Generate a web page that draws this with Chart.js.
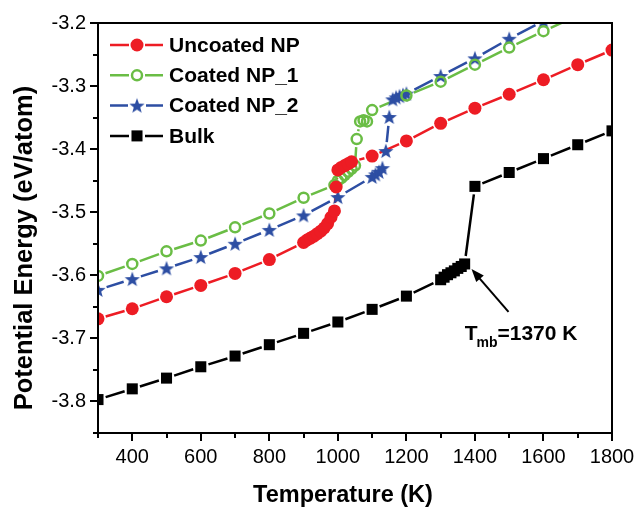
<!DOCTYPE html>
<html>
<head>
<meta charset="utf-8">
<script src="https://cdn.jsdelivr.net/npm/chart.js@4.4.1/dist/chart.umd.min.js"></script>
<style>
  body { margin: 0; background: #fff; }
</style>
</head>
<body>
<canvas id="peChart" width="638" height="512"></canvas>
<script>
// temperatures (K) and potential energy (eV/atom)
const tempsUncoated = [300, 400, 500, 600, 700, 800, 900, 910, 920, 930, 940, 950, 960, 970, 980, 990, 995, 1000, 1010, 1020, 1030, 1040, 1100, 1200, 1300, 1400, 1500, 1600, 1700, 1800];
const peUncoated = [-3.669, -3.653, -3.634, -3.616, -3.597, -3.575, -3.548, -3.544, -3.541, -3.538, -3.534, -3.530, -3.525, -3.518, -3.508, -3.498, -3.460, -3.433, -3.429, -3.426, -3.423, -3.420, -3.411, -3.387, -3.359, -3.335, -3.313, -3.290, -3.266, -3.243];

const tempsCoated1 = [300, 400, 500, 600, 700, 800, 900, 990, 1000, 1010, 1020, 1030, 1040, 1050, 1055, 1065, 1075, 1085, 1100, 1200, 1300, 1400, 1500, 1600, 1700];
const peCoated1 = [-3.601, -3.582, -3.562, -3.545, -3.524, -3.502, -3.477, -3.457, -3.450, -3.446, -3.441, -3.436, -3.431, -3.426, -3.384, -3.356, -3.354, -3.356, -3.338, -3.315, -3.293, -3.266, -3.239, -3.213, -3.188];

const tempsCoated2 = [300, 400, 500, 600, 700, 800, 900, 1000, 1100, 1110, 1120, 1130, 1140, 1150, 1160, 1170, 1180, 1190, 1200, 1300, 1400, 1500, 1600];
const peCoated2 = [-3.623, -3.606, -3.589, -3.571, -3.550, -3.528, -3.505, -3.476, -3.444, -3.440, -3.436, -3.430, -3.403, -3.349, -3.321, -3.318, -3.316, -3.314, -3.312, -3.284, -3.256, -3.225, -3.197];

const tempsBulk = [300, 400, 500, 600, 700, 800, 900, 1000, 1100, 1200, 1300, 1310, 1320, 1330, 1340, 1350, 1360, 1370, 1400, 1500, 1600, 1700, 1800];
const peBulk = [-3.797, -3.780, -3.763, -3.745, -3.728, -3.710, -3.692, -3.674, -3.654, -3.633, -3.607, -3.603, -3.599, -3.596, -3.593, -3.589, -3.586, -3.582, -3.459, -3.437, -3.415, -3.393, -3.371];

const seriesNames = ['Uncoated NP', 'Coated NP_1', 'Coated NP_2', 'Bulk'];
const xTickLabels = [400, 600, 800, 1000, 1200, 1400, 1600, 1800];
const yTickLabels = [-3.2, -3.3, -3.4, -3.5, -3.6, -3.7, -3.8];

const FONT = "'Liberation Sans', Arial, sans-serif";
const RED = '#ed1c24', GREEN = '#6abd45', BLUE = '#2d4ea3', BLACK = '#000000';

function makeStar(r, color) {
  const c = document.createElement('canvas');
  const s = Math.ceil(r * 2 + 2);
  c.width = c.height = s;
  const g = c.getContext('2d');
  g.fillStyle = color;
  g.beginPath();
  for (let k = 0; k < 10; k++) {
    const rr = k % 2 ? r * 0.42 : r;
    const a = -Math.PI / 2 + k * Math.PI / 5;
    g.lineTo(s / 2 + rr * Math.cos(a), s / 2 + rr * Math.sin(a) + 0.6);
  }
  g.closePath();
  g.fill();
  return c;
}
const star = makeStar(8, BLUE);

const pairs = (xs, ys) => xs.map((x, i) => ({ x: x, y: ys[i] }));

// lines are drawn segment by segment, stopping short of each marker
const gapLines = {
  id: 'gapLines',
  beforeDatasetsDraw(chart) {
    const { ctx, chartArea: a } = chart;
    ctx.save();
    ctx.beginPath();
    ctx.rect(a.left, a.top, a.right - a.left, a.bottom - a.top);
    ctx.clip();
    chart.data.datasets.forEach((ds, i) => {
      const pts = chart.getDatasetMeta(i).data;
      ctx.strokeStyle = ds.lineColor;
      ctx.lineWidth = 2.5;
      ctx.beginPath();
      for (let k = 1; k < pts.length; k++) {
        const p = pts[k - 1], q = pts[k];
        const dx = q.x - p.x, dy = q.y - p.y;
        const len = Math.hypot(dx, dy);
        if (len <= 2 * ds.gap) continue;
        const ux = dx / len, uy = dy / len;
        ctx.moveTo(p.x + ux * ds.gap, p.y + uy * ds.gap);
        ctx.lineTo(q.x - ux * ds.gap, q.y - uy * ds.gap);
      }
      ctx.stroke();
    });
    ctx.restore();
  }
};

function drawMarker(ctx, ds, x, y) {
  const st = ds.pointStyle;
  if (st instanceof HTMLCanvasElement) {
    ctx.drawImage(st, x - st.width / 2, y - st.height / 2);
  } else if (st === 'rect') {
    const s = Math.SQRT1_2 * ds.pointRadius;
    ctx.fillStyle = ds.pointBackgroundColor;
    ctx.fillRect(x - s, y - s, 2 * s, 2 * s);
  } else {
    ctx.beginPath();
    ctx.arc(x, y, ds.pointRadius, 0, Math.PI * 2);
    ctx.fillStyle = ds.pointBackgroundColor;
    ctx.fill();
    if (ds.pointBorderWidth) {
      ctx.lineWidth = ds.pointBorderWidth;
      ctx.strokeStyle = ds.pointBorderColor;
      ctx.stroke();
    }
  }
}

// frame, ticks, axis titles, legend and the melting-point note
const decorations = {
  id: 'decorations',
  afterDraw(chart) {
    const { ctx, chartArea: a, scales } = chart;
    const xs = scales.x, ys = scales.y;
    ctx.save();
    ctx.strokeStyle = '#000';
    ctx.lineWidth = 2;
    ctx.strokeRect(a.left, a.top, a.right - a.left, a.bottom - a.top);

    ctx.beginPath();
    for (let v = 300; v <= 1800; v += 100) {
      const px = Math.round(xs.getPixelForValue(v));
      ctx.moveTo(px, a.bottom);
      ctx.lineTo(px, a.bottom + (v % 200 === 0 ? 8 : 5));
    }
    for (let k = 0; k <= 13; k++) {
      const v = -3.2 - k * 0.05;
      const py = Math.round(ys.getPixelForValue(v));
      ctx.moveTo(a.left, py);
      ctx.lineTo(a.left - (k % 2 === 0 ? 8 : 5), py);
    }
    ctx.stroke();

    // axis titles
    ctx.fillStyle = '#000';
    ctx.textAlign = 'center';
    ctx.textBaseline = 'middle';
    ctx.font = 'bold 23.5px ' + FONT;
    ctx.fillText('Temperature (K)', 343, 496);
    ctx.save();
    ctx.translate(25, 248);
    ctx.rotate(-Math.PI / 2);
    ctx.font = 'bold 25.5px ' + FONT;
    ctx.fillText('Potential Energy (eV/atom)', 0, 0);
    ctx.restore();
    ctx.textAlign = 'left';

    // legend
    ctx.font = 'bold 21px ' + FONT;
    ctx.textBaseline = 'middle';
    chart.data.datasets.forEach((ds, i) => {
      const y = 45 + i * 30.3;
      ctx.strokeStyle = ds.lineColor;
      ctx.lineWidth = 2.5;
      ctx.beginPath();
      ctx.moveTo(110, y); ctx.lineTo(137 - ds.gap, y);
      ctx.moveTo(137 + ds.gap, y); ctx.lineTo(163, y);
      ctx.stroke();
      drawMarker(ctx, ds, 137, y);
      ctx.fillStyle = '#000';
      ctx.fillText(ds.label, 169, y + 1);
    });

    // T_mb annotation
    const tx = xs.getPixelForValue(1370), ty = ys.getPixelForValue(-3.702);
    ctx.fillStyle = '#000';
    ctx.textBaseline = 'alphabetic';
    ctx.font = 'bold 21px ' + FONT;
    ctx.fillText('T', tx, ty);
    const wT = ctx.measureText('T').width;
    ctx.font = 'bold 14px ' + FONT;
    ctx.fillText('mb', tx + wT - 1, ty + 7);
    const wS = ctx.measureText('mb').width;
    ctx.font = 'bold 21px ' + FONT;
    ctx.fillText('=1370 K', tx + wT + wS - 1, ty);

    const x0 = xs.getPixelForValue(1498), y0 = ys.getPixelForValue(-3.658);
    const x1 = xs.getPixelForValue(1390), y1 = ys.getPixelForValue(-3.590);
    const ang = Math.atan2(y1 - y0, x1 - x0);
    ctx.strokeStyle = '#000';
    ctx.lineWidth = 2;
    ctx.beginPath();
    ctx.moveTo(x0, y0);
    ctx.lineTo(x1 - 8 * Math.cos(ang), y1 - 8 * Math.sin(ang));
    ctx.stroke();
    ctx.beginPath();
    ctx.moveTo(x1, y1);
    ctx.lineTo(x1 - 13 * Math.cos(ang) + 5 * Math.sin(ang), y1 - 13 * Math.sin(ang) - 5 * Math.cos(ang));
    ctx.lineTo(x1 - 13 * Math.cos(ang) - 5 * Math.sin(ang), y1 - 13 * Math.sin(ang) + 5 * Math.cos(ang));
    ctx.closePath();
    ctx.fill();
    ctx.restore();
  }
};

new Chart(document.getElementById('peChart'), {
  type: 'scatter',
  data: {
    datasets: [
      { label: seriesNames[0], data: pairs(tempsUncoated, peUncoated), lineColor: RED, gap: 8,
        pointStyle: 'circle', pointRadius: 6.5, pointBackgroundColor: RED, pointBorderWidth: 0 },
      { label: seriesNames[1], data: pairs(tempsCoated1, peCoated1), lineColor: GREEN, gap: 8,
        pointStyle: 'circle', pointRadius: 5, pointBackgroundColor: 'rgba(0,0,0,0)',
        pointBorderColor: GREEN, pointBorderWidth: 2.5 },
      { label: seriesNames[2], data: pairs(tempsCoated2, peCoated2), lineColor: BLUE, gap: 9,
        pointStyle: star, pointRadius: 8 },
      { label: seriesNames[3], data: pairs(tempsBulk, peBulk), lineColor: BLACK, gap: 8,
        pointStyle: 'rect', pointRadius: 7.8, pointBackgroundColor: BLACK, pointBorderWidth: 0 }
    ]
  },
  options: {
    responsive: false,
    animation: false,
    events: [],
    clip: 0,
    layout: { padding: { left: 0, top: 23, right: 26, bottom: 0 } },
    plugins: { legend: { display: false }, tooltip: { enabled: false } },
    scales: {
      x: {
        type: 'linear',
        min: 300,
        max: 1800,
        afterFit: s => { s.height = 79; s.paddingLeft = 0; s.paddingRight = 0; },
        afterBuildTicks: s => { s.ticks = xTickLabels.map(v => ({ value: v })); },
        grid: { display: false, drawTicks: false },
        border: { display: false },
        ticks: { color: '#000', padding: 12, maxRotation: 0, font: { family: FONT, size: 20 },
                 callback: v => String(v) }
      },
      y: {
        type: 'linear',
        min: -3.85,
        max: -3.2,
        afterFit: s => { s.width = 98; s.paddingTop = 0; s.paddingBottom = 0; },
        afterBuildTicks: s => { s.ticks = yTickLabels.map(v => ({ value: v })); },
        grid: { display: false, drawTicks: false },
        border: { display: false },
        ticks: { color: '#000', padding: 12, font: { family: FONT, size: 20 },
                 callback: v => v.toFixed(1) }
      }
    }
  },
  plugins: [gapLines, decorations]
});
</script>
</body>
</html>
